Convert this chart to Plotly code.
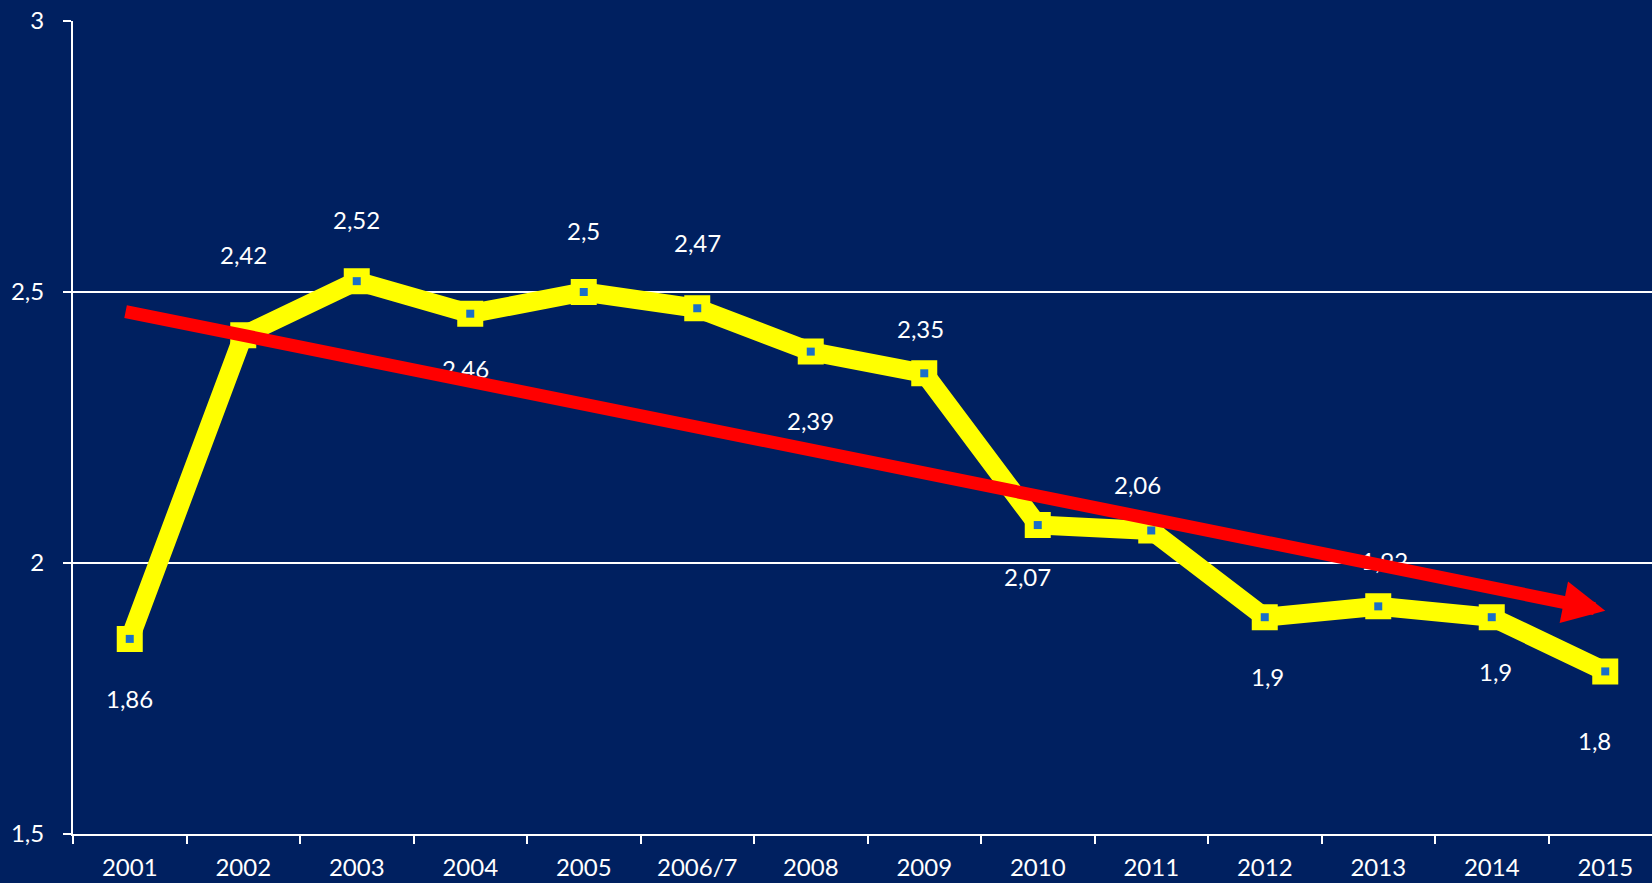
import numpy as np
import plotly.graph_objects as go

categories = ["2001", "2002", "2003", "2004", "2005", "2006/7", "2008", "2009",
              "2010", "2011", "2012", "2013", "2014", "2015"]
values = [1.86, 2.42, 2.52, 2.46, 2.5, 2.47, 2.39, 2.35, 2.07, 2.06, 1.9, 1.92, 1.9, 1.8]
y_ticks = [1.5, 2.0, 2.5, 3.0]

# label offsets in pixels (style: where each data label sits relative to its point)
label_dy = [-60, 81, 62, -55, 62, 66, -69, 45, -51, 46, -59, 46, -54, -69]
label_dx = [0, 0, 0, -5, 0, 0, 0, -4, -10, -14, 3, 6, 4, -11]

BG = "#002060"
FONT = "Lato"
FS = 24

def fmt(v):
    s = f"{v:g}"
    return s.replace(".", ",")

fig = go.Figure()

fig.add_trace(go.Scatter(
    x=categories, y=values, mode="lines+markers",
    line=dict(color="#FFFF00", width=19),
    marker=dict(symbol="square", size=20, color="#FFFF00",
                line=dict(color="#FFFF00", width=6)),
    hoverinfo="skip", showlegend=False,
))
fig.add_trace(go.Scatter(
    x=categories, y=values, mode="markers",
    marker=dict(symbol="square", size=8, color="#1A6FC8", line=dict(width=0)),
    hoverinfo="skip", showlegend=False,
))

annotations = []
for i, v in enumerate(values):
    annotations.append(dict(
        x=i, y=v, xref="x", yref="y", text=fmt(v), showarrow=False,
        yshift=label_dy[i], xshift=label_dx[i],
        font=dict(family=FONT, size=FS, color="white"),
    ))

# linear trend arrow
xi = np.arange(len(values))
slope, intercept = np.polyfit(xi, values, 1)
x0, x1 = -0.05, len(values) - 1
annotations.append(dict(
    x=x1, y=slope * x1 + intercept, ax=x0, ay=slope * x0 + intercept,
    xref="x", yref="y", axref="x", ayref="y", text="",
    showarrow=True, arrowhead=2, arrowsize=0.65, arrowwidth=13,
    arrowcolor="#FF0000",
))

fig.update_layout(
    width=1662, height=883,
    paper_bgcolor=BG, plot_bgcolor=BG,
    margin=dict(l=73, r=0, t=21, b=49),
    separators=",.",
    font=dict(family=FONT, size=FS, color="white"),
    annotations=annotations,
    xaxis=dict(
        type="category", range=[-0.5, len(categories) - 0.5],
        tickson="boundaries", ticks="outside", ticklen=8, tickwidth=2,
        tickcolor="white", showline=True, linecolor="white", linewidth=2,
        showgrid=False, tickfont=dict(family=FONT, size=FS, color="white"),
        ticklabelstandoff=11, fixedrange=True,
    ),
    yaxis=dict(
        range=[1.5, 3.0], tickvals=y_ticks, ticks="outside", ticklen=8,
        tickwidth=2, tickcolor="white", showline=True, linecolor="white",
        linewidth=2, showgrid=True, gridcolor="white", gridwidth=1.5,
        zeroline=False, tickfont=dict(family=FONT, size=FS, color="white"),
        ticklabelstandoff=14, fixedrange=True,
    ),
)

fig.write_html(
    "out.html",
    config={"displayModeBar": False},
    post_script="document.body.style.margin='0';document.body.style.overflow='hidden';",
)
